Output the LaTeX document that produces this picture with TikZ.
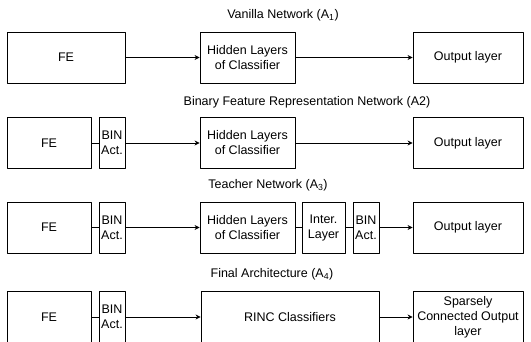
\documentclass[tikz,border=0pt]{standalone}
\usepackage{fontspec}
\setmainfont{Liberation Sans}
\usepackage{tikz}
\usetikzlibrary{arrows.meta}
\tikzset{>={Stealth[length=5pt,width=5pt]}}
\tikzset{blk/.style={draw, minimum height=51pt, inner sep=0pt, align=center,
	font=\fontsize{12.5}{15}\selectfont}}
\tikzset{ttl/.style={font=\fontsize{12.5}{15}\selectfont}}

\begin{document}
\begin{tikzpicture}[line cap=round,line join=round,line width=0.8pt,x=1pt,y=-1pt]
	\useasboundingbox (0,0) rectangle (531,341);
	% titles
	\node[ttl] (t1) at (283,15) {Vanilla Network (A\textsubscript{1})};
	\node[ttl] (t2) at (307,102) {Binary Feature Representation Network (A2)};
	\node[ttl] (t3) at (268,185) {Teacher Network (A\textsubscript{3})};
	\node[ttl] (t4) at (272,274) {Final Architecture (A\textsubscript{4})};
	% row 1
	\node[blk, minimum width=118pt] (fe1) at (66,57.5) {FE};
	\node[blk, minimum width=95pt] (hid1) at (247.5,57.5) {Hidden Layers\\of Classifier};
	\node[blk, minimum width=110pt] (out1) at (468,57.5) {Output layer};
	\draw[->] (fe1) -- (hid1);
	\draw[->] (hid1) -- (out1);
	% rows 2-4: FE and binary activation
	\foreach \i/\y in {2/143,3/227.5,4/317}{
		\node[blk, minimum width=84pt] (fe\i) at (49,\y) {FE};
		\node[blk, minimum width=26pt] (bin\i) at (112,\y) {BIN\\Act.};
		\draw (fe\i) -- (bin\i);
	}
	% row 2
	\node[blk, minimum width=95pt] (hid2) at (247.5,143) {Hidden Layers\\of Classifier};
	\node[blk, minimum width=110pt] (out2) at (468,143) {Output layer};
	\draw[->] (bin2) -- (hid2);
	\draw[->] (hid2) -- (out2);
	% row 3
	\node[blk, minimum width=95pt] (hid3) at (247.5,227.5) {Hidden Layers\\of Classifier};
	\node[blk, minimum width=43pt] (int3) at (323.5,227.5) {Inter.\\Layer};
	\node[blk, minimum width=26pt] (binb3) at (366,227.5) {BIN\\Act.};
	\node[blk, minimum width=110pt] (out3) at (468,227.5) {Output layer};
	\draw[->] (bin3) -- (hid3);
	\draw (hid3) -- (int3);
	\draw (int3) -- (binb3);
	\draw[->] (binb3) -- (out3);
	% row 4 (cut off at the bottom)
	\node[blk, minimum width=178pt] (rinc4) at (290,317) {RINC Classifiers};
	\node[blk, minimum width=110pt] (out4) at (468,317) {Sparsely\\Connected Output\\layer};
	\draw[->] (bin4) -- (rinc4);
	\draw[->] (rinc4) -- (out4);
\end{tikzpicture}
\end{document}
